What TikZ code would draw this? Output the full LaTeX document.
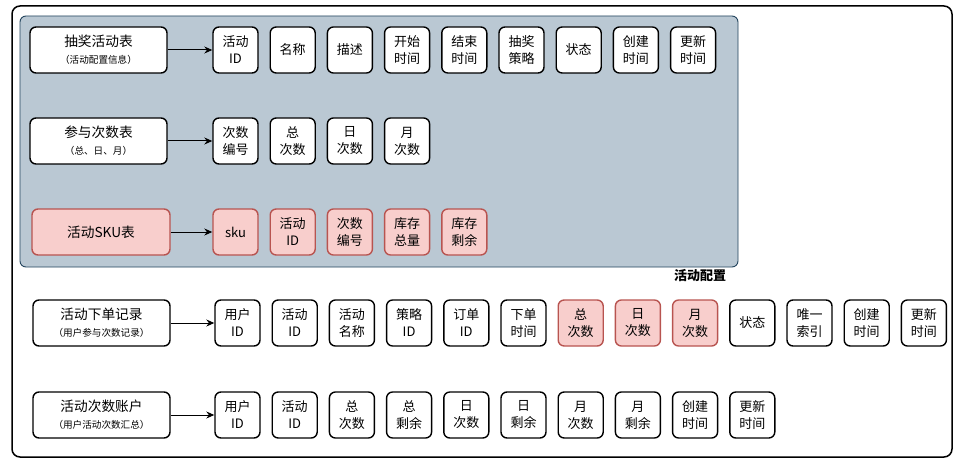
\documentclass[tikz,border=0pt]{standalone}
\usepackage{fontspec}
\setmainfont{Noto Sans CJK SC}
\usetikzlibrary{arrows.meta,positioning}

\definecolor{panelfill}{HTML}{BAC8D3}
\definecolor{panelline}{HTML}{23445D}
\definecolor{skufill}{HTML}{F8CECC}
\definecolor{skuline}{HTML}{B85450}

\begin{document}
\begin{tikzpicture}[x=1pt,y=-1pt,node distance=57.2pt,on grid,>={Stealth[length=8pt,width=7pt]}]
        \tikzset{field/.style={draw,line width=1.4pt,rounded corners=6pt,fill=white,
                  minimum width=45pt,minimum height=46pt,inner sep=0pt,align=center,
                  font=\fontsize{13}{17}\selectfont}}
        \tikzset{tablebox/.style={field,minimum width=137pt,font=\fontsize{13.7}{17}\selectfont}}
        \tikzset{hot/.style={draw=skuline,fill=skufill}}
        \newcommand{\subnote}[1]{{\fontsize{9.6}{12}\selectfont #1}}

        \useasboundingbox (0,0) rectangle (964,468);
        \draw[line width=1.5pt,rounded corners=8pt] (12,6) rectangle (952,457);
        \draw[panelline,fill=panelfill,line width=0.9pt,rounded corners=6pt] (20,16) rectangle (738,267);
        \node[font=\bfseries\fontsize{13}{15}\selectfont] (cfg) at (700,276) {活动配置};

        % 抽奖活动表
        \node[tablebox] (t1) at (98.5,50) {抽奖活动表\\\subnote{（活动配置信息）}};
        \node[field] (a1) at (235.5,50) {活动\\ID};
        \node[field] (a2) [right of=a1] {名称};
        \node[field] (a3) [right of=a2] {描述};
        \node[field] (a4) [right of=a3] {开始\\时间};
        \node[field] (a5) [right of=a4] {结束\\时间};
        \node[field] (a6) [right of=a5] {抽奖\\策略};
        \node[field] (a7) [right of=a6] {状态};
        \node[field] (a8) [right of=a7] {创建\\时间};
        \node[field] (a9) [right of=a8] {更新\\时间};

        % 参与次数表
        \node[tablebox] (t2) at (98.5,141) {参与次数表\\\subnote{（总、日、月）}};
        \node[field] (b1) at (235.5,141) {次数\\编号};
        \node[field] (b2) [right of=b1] {总\\次数};
        \node[field] (b3) [right of=b2] {日\\次数};
        \node[field] (b4) [right of=b3] {月\\次数};

        % 活动SKU表
        \node[tablebox,hot,minimum width=138pt] (t3) at (101,232) {活动SKU表};
        \node[field,hot] (c1) at (235.5,232) {sku};
        \node[field,hot] (c2) [right of=c1] {活动\\ID};
        \node[field,hot] (c3) [right of=c2] {次数\\编号};
        \node[field,hot] (c4) [right of=c3] {库存\\总量};
        \node[field,hot] (c5) [right of=c4] {库存\\剩余};

        % 活动下单记录
        \node[tablebox] (t4) at (101.5,323) {活动下单记录\\\subnote{（用户参与次数记录）}};
        \node[field] (d1) at (237.5,323) {用户\\ID};
        \node[field] (d2) [right of=d1] {活动\\ID};
        \node[field] (d3) [right of=d2] {活动\\名称};
        \node[field] (d4) [right of=d3] {策略\\ID};
        \node[field] (d5) [right of=d4] {订单\\ID};
        \node[field] (d6) [right of=d5] {下单\\时间};
        \node[field,hot] (d7) [right of=d6] {总\\次数};
        \node[field,hot] (d8) [right of=d7] {日\\次数};
        \node[field,hot] (d9) [right of=d8] {月\\次数};
        \node[field] (d10) [right of=d9] {状态};
        \node[field] (d11) [right of=d10] {唯一\\索引};
        \node[field] (d12) [right of=d11] {创建\\时间};
        \node[field] (d13) [right of=d12] {更新\\时间};

        % 活动次数账户
        \node[tablebox] (t5) at (101.5,415) {活动次数账户\\\subnote{（用户活动次数汇总）}};
        \node[field] (e1) at (237.5,415) {用户\\ID};
        \node[field] (e2) [right of=e1] {活动\\ID};
        \node[field] (e3) [right of=e2] {总\\次数};
        \node[field] (e4) [right of=e3] {总\\剩余};
        \node[field] (e5) [right of=e4] {日\\次数};
        \node[field] (e6) [right of=e5] {日\\剩余};
        \node[field] (e7) [right of=e6] {月\\次数};
        \node[field] (e8) [right of=e7] {月\\剩余};
        \node[field] (e9) [right of=e8] {创建\\时间};
        \node[field] (e10) [right of=e9] {更新\\时间};

        \path[->,line width=1pt]
            (t1) edge (a1)
            (t2) edge (b1)
            (t3) edge (c1)
            (t4) edge (d1)
            (t5) edge (e1)
        ;
    \end{tikzpicture}
\end{document}
